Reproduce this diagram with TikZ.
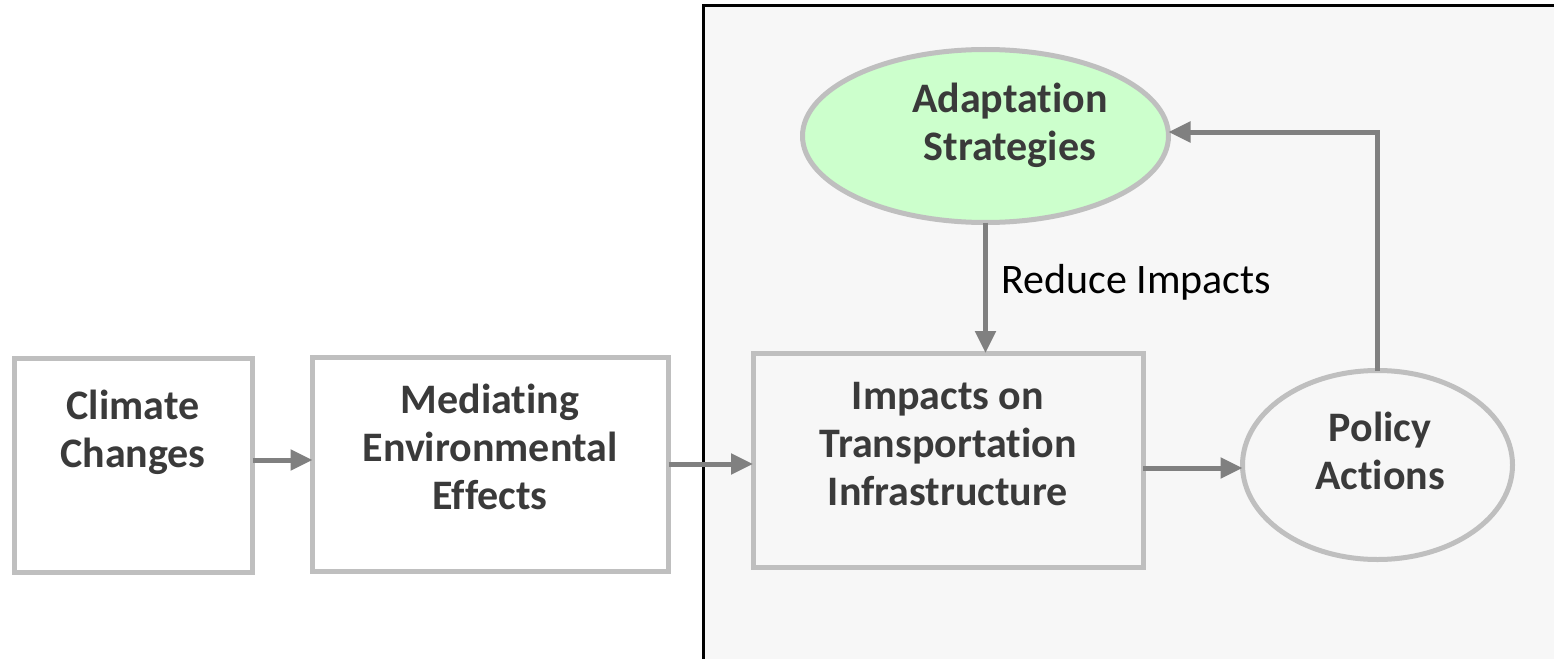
\documentclass[tikz,border=0pt]{standalone}
\usepackage{fontspec}
\setmainfont{Carlito}[Ligatures=NoCommon]
\usetikzlibrary{arrows.meta,shapes.geometric}
\definecolor{boxgray}{HTML}{BFBFBF}
\definecolor{arrgray}{HTML}{808080}
\definecolor{txtgray}{HTML}{3A3A3A}
\definecolor{panelfill}{HTML}{F7F7F7}
\definecolor{adaptgreen}{HTML}{CCFFCC}
\tikzset{
  shapebox/.style={draw=boxgray, line width=5pt, rectangle, inner sep=0pt, outer sep=0pt},
  shapeell/.style={draw=boxgray, line width=5pt, ellipse, inner sep=0pt, outer sep=0pt},
  lbl/.style={text=txtgray, font=\fontsize{42}{48}\selectfont\bfseries, align=center, inner sep=0pt},
  plain/.style={text=black, font=\fontsize{42}{48}\selectfont, inner sep=0pt},
  arr/.style={draw=arrgray, line width=5pt, -{Triangle[length=22pt,width=20pt]}},
}
\begin{document}
\begin{tikzpicture}[x=1pt,y=-1pt]
\useasboundingbox (0,0) rectangle (1554,658);
\clip (0,0) rectangle (1554,658);
% panel
\path[fill=panelfill, draw=black, line width=3pt] (703,6) rectangle (1580,690);
% shapes
\node[shapebox, minimum width=238pt, minimum height=214pt] (climate) at (133.5,465.5) {};
\node[shapebox, minimum width=356pt, minimum height=214pt] (med) at (490.5,464) {};
\node[shapebox, minimum width=390pt, minimum height=214pt] (imp) at (948,460) {};
\node[shapeell, minimum width=270pt, minimum height=189pt] (pol) at (1377.5,465) {};
\node[shapeell, fill=adaptgreen, minimum width=366pt, minimum height=173pt] (adapt) at (985.5,136) {};
% labels
\node[lbl] (tclimate) at (133,432) {Climate\\Changes};
\node[lbl] (tmed) at (490,447) {Mediating\\Environmental\\Effects};
\node[lbl] (timp) at (948,444) {Impacts on\\Transportation\\Infrastructure};
\node[lbl] (tpol) at (1380,451) {Policy\\Actions};
\node[lbl] (tadapt) at (1010,125) {Adaptation\\Strategies};
\node[plain, anchor=base west] (treduce) at (1001,293) {Reduce Impacts};
% arrows
\draw[arr] ([yshift=5.5pt]climate.east) -- ([yshift=5.5pt]climate.east -| med.west);
\draw[arr] (med.east) -- (med.east -| imp.west);
\draw[arr] ([yshift=-8pt]imp.east) -- ([yshift=-8pt]imp.east -| pol.west);
\draw[arr] (adapt.south) -- (adapt.south |- imp.north);
\draw[arr] (pol.north) |- ([yshift=4pt]adapt.east);
\end{tikzpicture}
\end{document}
